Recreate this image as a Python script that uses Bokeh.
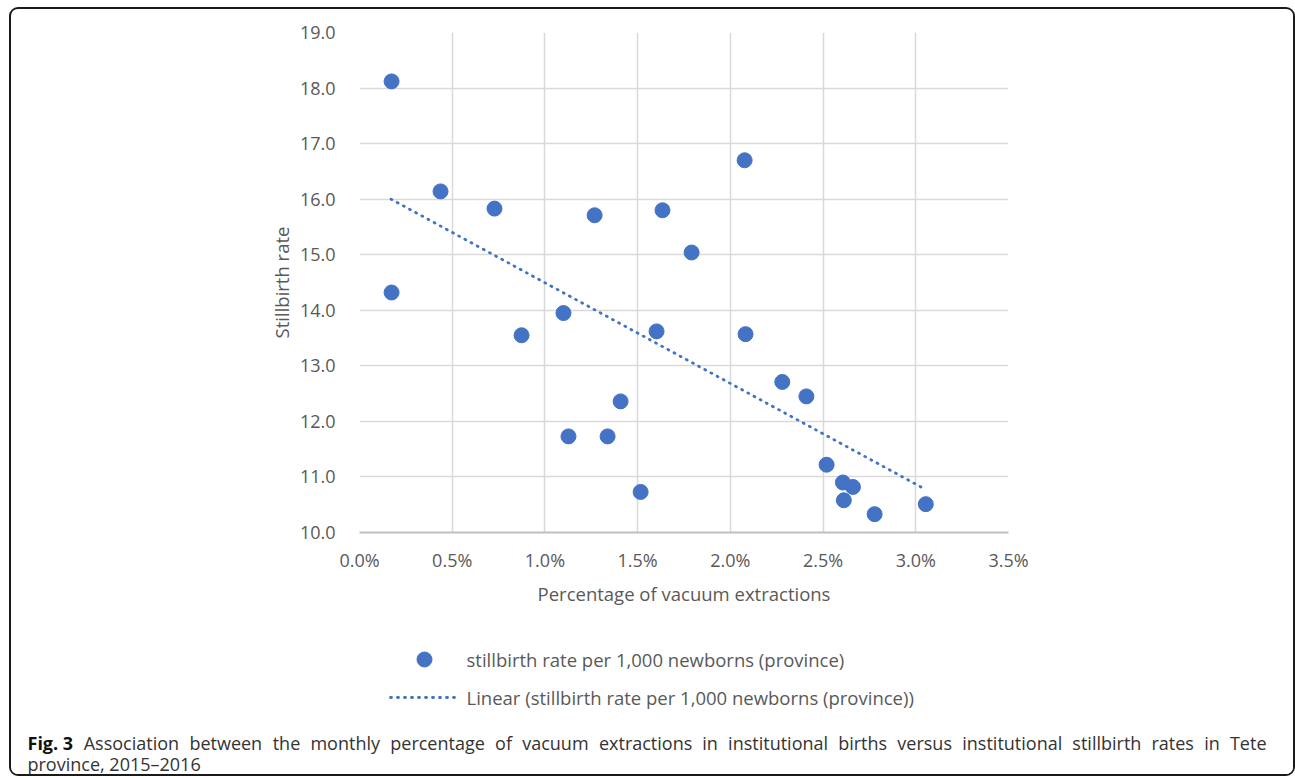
from bokeh.plotting import figure
from bokeh.layouts import column, row
from bokeh.models import Range1d, SingleIntervalTicker, PrintfTickFormatter
from bokeh.core.properties import value
from bokeh.embed import file_html
from bokeh.resources import INLINE

# ---- data ----
vacuum_pct = [0.173, 0.173, 0.437, 0.728, 0.874, 1.100, 1.127, 1.268, 1.338, 1.408, 1.516, 1.602,
              1.634, 1.791, 2.077, 2.082, 2.280, 2.410, 2.519, 2.607, 2.612, 2.661, 2.778, 3.054]
stillbirth = [18.12, 14.32, 16.14, 15.83, 13.55, 13.95, 11.73, 15.71, 11.73, 12.36, 10.73, 13.62,
              15.80, 15.04, 16.70, 13.57, 12.71, 12.45, 11.22, 10.90, 10.58, 10.82, 10.33, 10.51]
trend_x = [0.17, 3.05]
trend_y = [16.0, 10.78]

series_label = "stillbirth rate per 1,000 newborns (province)"
trend_label = "Linear (stillbirth rate per 1,000 newborns (province))"
x_title = "Percentage of vacuum extractions"
y_title = "Stillbirth rate"
caption_bold = "Fig. 3"
caption_line1 = ("Association between the monthly percentage of vacuum extractions in "
                 "institutional births versus institutional stillbirth rates in Tete")
caption_line2 = "province, 2015\u20132016"

BLUE = "#4472C4"
GRID = "#d9d9d9"
TXT = "#595959"
FONT = "Open Sans"

# content box (inside the rounded frame)
CX0, CY0 = 11, 9
CW = 1282
A_H = 616
B_H = 149
FL, FR, FT, FB = 359, 1008, 32, 532   # plot frame edges in page px

# ---------------- main chart ----------------
p = figure(width=CW, height=A_H, output_backend="svg", toolbar_location=None,
           x_range=Range1d(0, 3.5), y_range=Range1d(10, 19),
           min_border_left=FL - CX0, min_border_right=CX0 + CW - FR,
           min_border_top=FT - CY0, min_border_bottom=CY0 + A_H - FB)
p.outline_line_color = None
p.background_fill_color = "white"
p.border_fill_color = "white"

p.scatter(vacuum_pct, stillbirth, size=15, fill_color=BLUE, line_color=BLUE)
p.line(trend_x, trend_y, line_color=BLUE, line_width=2.8, line_dash="1 6", line_cap="round")

for ax in (p.xaxis[0], p.yaxis[0]):
    ax.major_tick_line_color = None
    ax.minor_tick_line_color = None
    ax.major_tick_in = 0
    ax.major_tick_out = 0
    ax.major_label_text_font = FONT
    ax.major_label_text_font_size = "18px"
    ax.major_label_text_color = TXT
    ax.axis_label_text_font = FONT
    ax.axis_label_text_font_size = "18.5px"
    ax.axis_label_text_font_style = "normal"
    ax.axis_label_text_color = TXT

p.xaxis.ticker = SingleIntervalTicker(interval=0.5)
p.xaxis.formatter = PrintfTickFormatter(format="%.1f%%")
p.xaxis.axis_line_color = "#bfbfbf"
p.xaxis.axis_line_width = 2
p.xaxis.major_label_standoff = 11
p.xaxis.axis_label = x_title
p.xaxis.axis_label_standoff = 6

p.yaxis.ticker = SingleIntervalTicker(interval=1)
p.yaxis.formatter = PrintfTickFormatter(format="%.1f")
p.yaxis.axis_line_color = None
p.yaxis.major_label_standoff = 20
p.yaxis.axis_label = y_title
p.yaxis.axis_label_standoff = 3

p.xgrid.ticker = SingleIntervalTicker(interval=0.5)
p.ygrid.ticker = SingleIntervalTicker(interval=1)
p.xgrid.grid_line_color = GRID
p.ygrid.grid_line_color = GRID
p.xgrid.grid_line_width = 1.5
p.ygrid.grid_line_width = 1.5

# ---------------- legend + caption strip ----------------
q = figure(width=CW, height=B_H, output_backend="svg", toolbar_location=None,
           x_range=Range1d(0, CW), y_range=Range1d(B_H, 0),
           min_border=0, x_axis_location=None, y_axis_location=None)
q.outline_line_color = None
q.grid.visible = False
q.background_fill_color = "white"
q.border_fill_color = "white"

def bx(px):
    return px - CX0

def by(py):
    return py - (CY0 + A_H)

# legend entries
q.scatter([bx(424)], [by(659)], size=15, fill_color=BLUE, line_color=BLUE)
q.line([bx(390), bx(456)], [by(697), by(697)], line_color=BLUE, line_width=2.8,
       line_dash="1 6", line_cap="round")
q.text([bx(466), bx(466)], [by(659), by(697)], text=[series_label, trend_label],
       text_font=value(FONT), text_font_size="18.5px", text_color=TXT,
       text_baseline="middle", text_align="left")

# caption: first line is justified between the left start and the right end
CAP_FS = 18
ADV = {"A": 633, "s": 478, "o": 603, "c": 480, "i": 252, "a": 556, "t": 353, "n": 614,
       "b": 613, "w": 797, "e": 561, "h": 614, "m": 931, "l": 252, "y": 500, "p": 613,
       "r": 409, "g": 546, "f": 336, "v": 500, "u": 614, "x": 515, "d": 613, "T": 556}

def word_w(w):
    return sum(ADV.get(ch, 560) for ch in w) * CAP_FS / 1000.0

LINE_L, LINE_R, BOLD_W = 27, 1266, 46
words = caption_line1.split()
gap = (LINE_R - LINE_L - BOLD_W - sum(word_w(w) for w in words)) / len(words)
xs, cur = [], LINE_L + BOLD_W + gap
for w in words:
    xs.append(bx(cur))
    cur += word_w(w) + gap

q.text([bx(LINE_L)], [by(742)], text=[caption_bold], text_font=value(FONT),
       text_font_size=f"{CAP_FS}px", text_font_style="bold", text_color="#111111",
       text_baseline="alphabetic")
q.text(xs, [by(742)] * len(words), text=words, text_font=value(FONT),
       text_font_size=f"{CAP_FS}px", text_color="#333333", text_baseline="alphabetic")
q.text([bx(LINE_L)], [by(763)], text=[caption_line2], text_font=value(FONT),
       text_font_size=f"{CAP_FS}px", text_color="#333333", text_baseline="alphabetic")

layout = column(p, row(q), spacing=0, margin=(7, 0, 0, 9),
                styles={"border": "2px solid #1a1a1a", "border-radius": "9px",
                        "overflow": "hidden"})

open("out.html", "w").write(file_html(layout, INLINE))
